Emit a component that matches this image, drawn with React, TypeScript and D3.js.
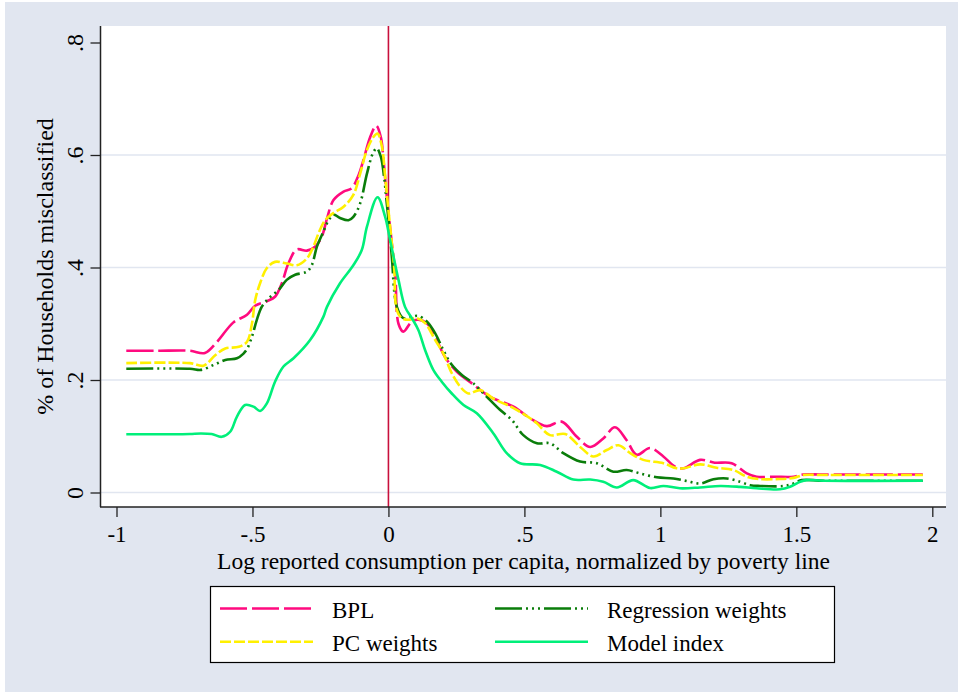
import React, { useEffect, useRef } from "react";
import * as d3 from "d3";

// values (x = log consumption / poverty line, y = share misclassified)
const bpl: [number, number][] = [
  [-0.964, 0.252], [-0.85, 0.252], [-0.73, 0.252], [-0.675, 0.248], [-0.63, 0.268],
  [-0.571, 0.302], [-0.52, 0.316], [-0.49, 0.332], [-0.447, 0.34], [-0.417, 0.348],
  [-0.392, 0.372], [-0.368, 0.407], [-0.337, 0.432], [-0.3, 0.43], [-0.27, 0.437],
  [-0.245, 0.455], [-0.227, 0.485], [-0.202, 0.52], [-0.165, 0.535], [-0.135, 0.541],
  [-0.11, 0.564], [-0.092, 0.591], [-0.067, 0.632], [-0.045, 0.652], [-0.028, 0.632],
  [-0.018, 0.59], [-0.006, 0.526], [0.0125, 0.443], [0.025, 0.39], [0.037, 0.3],
  [0.055, 0.286], [0.086, 0.304], [0.11, 0.307], [0.141, 0.301], [0.172, 0.277],
  [0.208, 0.241], [0.251, 0.215], [0.307, 0.194], [0.374, 0.17], [0.46, 0.1525],
  [0.521, 0.132], [0.582, 0.118], [0.637, 0.126], [0.693, 0.099], [0.742, 0.081],
  [0.79, 0.096], [0.833, 0.116], [0.876, 0.093], [0.913, 0.067], [0.962, 0.079],
  [1.011, 0.064], [1.054, 0.046], [1.085, 0.043], [1.146, 0.058], [1.2, 0.053],
  [1.262, 0.052], [1.318, 0.034], [1.354, 0.028], [1.42, 0.028], [1.49, 0.028],
  [1.525, 0.032], [1.6, 0.032], [1.965, 0.032],
];

const pcWeights: [number, number][] = [
  [-0.964, 0.23], [-0.73, 0.23], [-0.68, 0.2255], [-0.637, 0.244], [-0.6, 0.256],
  [-0.55, 0.259], [-0.52, 0.268], [-0.502, 0.3], [-0.49, 0.342], [-0.472, 0.372],
  [-0.447, 0.399], [-0.417, 0.41], [-0.373, 0.407], [-0.337, 0.404], [-0.3, 0.416],
  [-0.276, 0.437], [-0.257, 0.461], [-0.233, 0.484], [-0.205, 0.496], [-0.165, 0.508],
  [-0.129, 0.529], [-0.104, 0.567], [-0.079, 0.609], [-0.055, 0.632], [-0.04, 0.638],
  [-0.024, 0.615], [-0.012, 0.561], [0, 0.502], [0.0125, 0.443], [0.021, 0.401],
  [0.031, 0.324], [0.049, 0.31], [0.074, 0.307], [0.104, 0.31], [0.135, 0.301],
  [0.172, 0.271], [0.202, 0.247], [0.233, 0.212], [0.264, 0.188], [0.294, 0.176],
  [0.337, 0.182], [0.386, 0.167], [0.46, 0.15], [0.521, 0.132], [0.546, 0.123],
  [0.594, 0.102], [0.65, 0.104], [0.705, 0.081], [0.754, 0.064], [0.803, 0.0756],
  [0.846, 0.084], [0.889, 0.07], [0.937, 0.058], [1.011, 0.052], [1.06, 0.043],
  [1.085, 0.043], [1.146, 0.05], [1.207, 0.044], [1.268, 0.04], [1.318, 0.028],
  [1.36, 0.024], [1.44, 0.024], [1.49, 0.026], [1.526, 0.031], [1.6, 0.031], [1.965, 0.031],
];

const regWeights: [number, number][] = [
  [-0.964, 0.22], [-0.73, 0.22], [-0.69, 0.218], [-0.643, 0.2267], [-0.6, 0.2356],
  [-0.557, 0.2386], [-0.533, 0.247], [-0.52, 0.255], [-0.502, 0.277], [-0.484, 0.307],
  [-0.466, 0.33], [-0.441, 0.345], [-0.404, 0.36], [-0.374, 0.378], [-0.343, 0.387],
  [-0.3, 0.3926], [-0.282, 0.404], [-0.263, 0.437], [-0.239, 0.464], [-0.22, 0.484],
  [-0.202, 0.494], [-0.178, 0.488], [-0.147, 0.484], [-0.129, 0.49], [-0.104, 0.514],
  [-0.079, 0.567], [-0.057, 0.603], [-0.043, 0.612], [-0.028, 0.597], [-0.016, 0.561],
  [-0.006, 0.514], [0.004, 0.467], [0.0125, 0.419], [0.031, 0.33], [0.055, 0.31],
  [0.086, 0.3126], [0.11, 0.314], [0.141, 0.304], [0.172, 0.283], [0.202, 0.253],
  [0.233, 0.227], [0.27, 0.209], [0.3125, 0.194], [0.362, 0.17], [0.41, 0.147],
  [0.454, 0.129], [0.496, 0.102], [0.546, 0.0875], [0.594, 0.0875], [0.643, 0.07],
  [0.705, 0.055], [0.766, 0.052], [0.827, 0.037], [0.876, 0.04], [0.925, 0.034],
  [0.987, 0.027], [1.048, 0.025], [1.097, 0.0204], [1.146, 0.016], [1.195, 0.0235],
  [1.244, 0.025], [1.293, 0.019], [1.33, 0.013], [1.367, 0.0116], [1.452, 0.0116],
  [1.49, 0.016], [1.52, 0.022], [1.6, 0.021], [1.965, 0.021],
];

const modelIndex: [number, number][] = [
  [-0.964, 0.1035], [-0.8, 0.1035], [-0.73, 0.104], [-0.69, 0.105], [-0.65, 0.104],
  [-0.613, 0.099], [-0.582, 0.108], [-0.557, 0.135], [-0.527, 0.1556], [-0.496, 0.1526],
  [-0.472, 0.145], [-0.447, 0.1585], [-0.417, 0.197], [-0.386, 0.224], [-0.349, 0.2386],
  [-0.288, 0.271], [-0.239, 0.3126], [-0.226, 0.33], [-0.178, 0.372], [-0.129, 0.404],
  [-0.098, 0.431], [-0.079, 0.4725], [-0.04, 0.525], [-0.012, 0.49], [0.006, 0.449],
  [0.037, 0.378], [0.061, 0.33], [0.086, 0.31], [0.11, 0.289], [0.135, 0.253],
  [0.165, 0.218], [0.196, 0.197], [0.233, 0.176], [0.276, 0.1556], [0.325, 0.141],
  [0.386, 0.105], [0.435, 0.07], [0.484, 0.052], [0.558, 0.049], [0.619, 0.037],
  [0.68, 0.023], [0.742, 0.023], [0.79, 0.019], [0.84, 0.009], [0.9, 0.022],
  [0.962, 0.008], [1.011, 0.0116], [1.072, 0.0075], [1.146, 0.009], [1.22, 0.0116],
  [1.293, 0.01], [1.354, 0.0075], [1.44, 0.0057], [1.477, 0.0103], [1.514, 0.019],
  [1.538, 0.022], [1.6, 0.021], [1.965, 0.021],
];

const xTicks = [-1, -0.5, 0, 0.5, 1, 1.5, 2];
const yTicks = [0, 0.2, 0.4, 0.6, 0.8];
const yGrid = [0, 0.2, 0.4, 0.6];

const series = [
  { name: "BPL", data: bpl, color: "#ff0a7f", dash: "27,5" },
  { name: "Regression weights", data: regWeights, color: "#0a7d0a", dash: "27,4,2,4,2,4,2,4" },
  { name: "PC weights", data: pcWeights, color: "#fff000", dash: "11,3" },
  { name: "Model index", data: modelIndex, color: "#00ef7a", dash: null },
];

const FONT = "'Liberation Serif', 'Times New Roman', serif";
const BG = "#e1e6f0";

// ".5" style labels like Stata
const fmt = (v: number) => String(v).replace(/^(-?)0\./, "$1.");

const App = () => {
  const ref = useRef<SVGSVGElement>(null);

  useEffect(() => {
    const W = 958, H = 692;
    const plot = { left: 101, right: 946, top: 26, bottom: 507 };
    const svg = d3.select(ref.current);
    svg.selectAll("*").remove();

    svg.append("rect").attr("width", W).attr("height", H).attr("fill", "#fff");
    svg.append("rect").attr("x", 5).attr("y", 2).attr("width", W - 5).attr("height", H - 2).attr("fill", BG);
    svg.append("rect")
      .attr("x", plot.left).attr("y", plot.top)
      .attr("width", plot.right - plot.left).attr("height", plot.bottom - plot.top)
      .attr("fill", "#fff");

    const x = d3.scaleLinear().domain([-1, 2]).range([116.5, 932.3]);
    const y = d3.scaleLinear().domain([0, 0.8]).range([492.5, 42.5]);

    svg.append("g").selectAll("line").data(yGrid).enter().append("line")
      .attr("x1", plot.left).attr("x2", plot.right)
      .attr("y1", d => y(d)).attr("y2", d => y(d))
      .attr("stroke", BG).attr("stroke-width", 1.6);

    // poverty line
    svg.append("line")
      .attr("x1", x(0)).attr("x2", x(0)).attr("y1", plot.top).attr("y2", plot.bottom)
      .attr("stroke", "#c8103c").attr("stroke-width", 1.6);

    const line = d3.line<[number, number]>()
      .x(d => x(d[0])).y(d => y(d[1]))
      .curve(d3.curveCatmullRom.alpha(0.5));

    series.forEach(s => {
      svg.append("path")
        .attr("d", line(s.data))
        .attr("fill", "none")
        .attr("stroke", s.color)
        .attr("stroke-width", 2.6)
        .attr("stroke-dasharray", s.dash)
        .attr("stroke-linejoin", "round");
    });

    // axes
    const xAxis = svg.append("g")
      .attr("transform", `translate(0,${plot.bottom})`)
      .call(d3.axisBottom(x).tickValues(xTicks).tickFormat(d => fmt(d as number)).tickSize(10).tickSizeOuter(0));
    xAxis.select(".domain").remove();
    xAxis.selectAll("line").attr("stroke", "#222").attr("stroke-width", 1.3);
    xAxis.selectAll("text")
      .attr("y", 35).attr("dy", 0)
      .attr("fill", "#000").style("font-family", FONT).style("font-size", "23px");

    const yAxis = svg.append("g")
      .attr("transform", `translate(${plot.left - 0.5},0)`)
      .call(d3.axisLeft(y).tickValues(yTicks).tickFormat(d => fmt(d as number)).tickSize(10).tickSizeOuter(0));
    yAxis.select(".domain").remove();
    yAxis.selectAll("line").attr("stroke", "#222").attr("stroke-width", 1.3);
    yAxis.selectAll("text")
      .attr("transform", "rotate(-90)")
      .attr("x", 0).attr("y", -18).attr("dy", 0)
      .attr("text-anchor", "middle")
      .attr("fill", "#000").style("font-family", FONT).style("font-size", "24px");

    svg.append("line")
      .attr("x1", plot.left - 0.5).attr("x2", plot.left - 0.5).attr("y1", plot.top).attr("y2", plot.bottom)
      .attr("stroke", "#222").attr("stroke-width", 1.5);
    svg.append("line")
      .attr("x1", plot.left - 1).attr("x2", plot.right).attr("y1", plot.bottom).attr("y2", plot.bottom)
      .attr("stroke", "#222").attr("stroke-width", 1.5);

    svg.append("text")
      .attr("x", (plot.left + plot.right) / 2).attr("y", 569)
      .attr("text-anchor", "middle")
      .style("font-family", FONT).style("font-size", "23.5px")
      .text("Log reported consumption per capita, normalized by poverty line");

    svg.append("text")
      .attr("transform", `translate(53,${(plot.top + plot.bottom) / 2}) rotate(-90)`)
      .attr("text-anchor", "middle")
      .style("font-family", FONT).style("font-size", "24px")
      .text("% of Households misclassified");

    // legend
    const lg = svg.append("g");
    lg.append("rect")
      .attr("x", 210.5).attr("y", 586.5).attr("width", 624).attr("height", 76)
      .attr("fill", "#fff").attr("stroke", "#000").attr("stroke-width", 1.2);
    const slots = [
      { sx: 220, tx: 332, row: 0 },
      { sx: 495, tx: 607, row: 0 },
      { sx: 220, tx: 332, row: 1 },
      { sx: 495, tx: 607, row: 1 },
    ];
    series.forEach((s, i) => {
      const p = slots[i];
      const ly = 608.5 + p.row * 33.3;
      lg.append("line")
        .attr("x1", p.sx).attr("x2", p.sx + 93).attr("y1", ly).attr("y2", ly)
        .attr("stroke", s.color).attr("stroke-width", 2.6)
        .attr("stroke-dasharray", s.dash);
      lg.append("text")
        .attr("x", p.tx).attr("y", ly + 9.5)
        .style("font-family", FONT).style("font-size", "23px")
        .text(s.name);
    });
  }, []);

  return (
    <div style={{ position: "absolute", left: 0, top: 0 }}>
      <svg ref={ref} width={958} height={692} style={{ display: "block" }} />
    </div>
  );
};

export default App;
